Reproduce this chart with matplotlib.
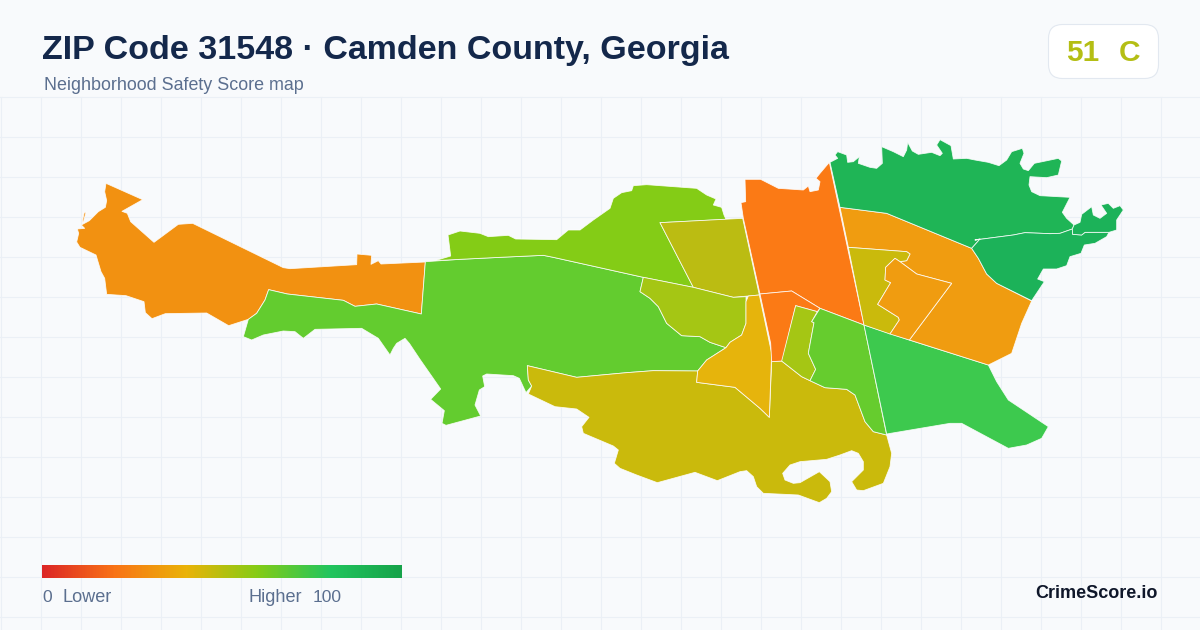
import matplotlib
matplotlib.use('Agg')
import matplotlib.pyplot as plt
import numpy as np
from matplotlib.colors import LinearSegmentedColormap
from matplotlib.patches import FancyBboxPatch, Polygon

plt.rcParams['font.family'] = ['Liberation Sans', 'DejaVu Sans']

def crop(ox, oy, pts):
    return [(x / 3 + ox, y / 3 + oy) for x, y in pts]

def west(pts):
    return crop(0, 130, pts)

def mid(pts):
    return crop(420, 170, pts)

def east(pts):
    return crop(730, 130, pts)

def coast_n(pts):
    return crop(825, 135, pts)

def coast_e(pts):
    return crop(975, 135, pts)

def lagoon(pts):
    return crop(740, 430, pts)

west_orange = west([(318,160),(428,209),(366,244),(382,250),(392,275),(462,337),(535,283),(578,280),(850,413),(870,416),(1070,404),(1071,372),(1115,376),(1113,403),(1135,392),(1143,402),(1276,396),(1264,552),(1130,522),(1065,529),(1030,511),(862,492),(806,479),(795,510),(770,550),(745,568),(686,587),(620,549),(496,551),(456,566),(436,548),(432,515),(378,497),(320,493),(314,445),(303,425),(288,375),(240,352),(230,336),(236,310),(232,297),(254,295),(244,285),(268,272),(295,245),(316,232),(320,212),(314,185)])
west_sliver = west([(253,247),(258,247),(250,276),(247,274)])
west_green = west([(806,479),(862,492),(1030,511),(1065,529),(1130,522),(1264,552),(1276,396)]) \
    + mid([(18,275),(120,268),(240,262),(370,256),(400,262),(670,322),(660,365),(690,385),(715,410),(740,460),(785,497),(840,500),(870,517),(918,533),(860,570),(833,603),(700,602),(620,608),(470,622),(322,587),(325,630),(335,648),(318,668),(298,625),(280,617),(200,612),(188,618),(194,650),(178,660),(165,705),(182,738),(78,766),(66,760),(73,722),(32,688),(62,657),(0,568)]) \
    + west([(1228,640),(1215,625),(1190,640),(1180,655),(1170,675),(1135,625),(1085,595),(945,598),(910,625),(885,605),(850,603),(790,615),(755,630),(730,620),(745,568),(770,550),(795,510)])
north_lime = mid([(45,272),(92,258),(84,195),(120,183),(180,190),(205,200),(265,196),(287,207),(410,209),(445,180),(480,180),(520,150),(570,115),(580,85),(605,68),(635,62),(640,47),(680,44),(830,55),(860,75),(888,87),(880,105),(905,112),(912,135),(918,148),(720,158),(820,352),(670,322),(400,262),(370,256),(240,262),(120,268)])
north_olive = mid([(720,158),(968,145),(1018,375),(985,378),(940,382),(820,352)])
centre_lime = mid([(670,322),(820,352),(940,382),(978,380),(978,460),(965,495),(930,517),(918,533),(870,517),(840,500),(785,497),(740,460),(715,410),(690,385),(660,365)])
centre_amber = mid([(985,378),(1018,375),(1055,550),(1048,742),(1020,715),(945,652),(830,637),(833,603),(860,570),(918,533),(930,517),(965,495),(978,460),(978,395)])
south_olive = mid([(322,587),(470,622),(620,608),(700,602),(833,603),(830,637),(945,652),(1020,715),(1048,742),(1055,575)]) \
    + east([(125,695),(155,693),(215,740),(240,752),(285,773),(350,778),(375,795),(405,875),(430,905),(470,915)]) \
    + lagoon([(455,70),(450,110),(430,160),(370,182),(350,180),(335,155),(370,120),(370,95),(355,70),(335,62),(300,75),(260,88),(180,95),(150,105),(128,130),(135,150),(160,160),(180,158),(238,125),(270,155),(275,185),(260,205),(238,218),(175,195),(70,190),(50,170),(40,140),(20,122),(0,125)]) \
    + mid([(892,932),(825,907),(712,938),(650,915),(600,895),(583,880),(595,840),(580,828),(490,790),(485,770),(507,742),(470,717),(405,710),(325,672),(335,648),(325,630)])
north_orange = east([(45,148),(92,148),(145,175),(220,180),(235,168),(240,185),(265,180),(270,155),(258,145),(270,130),(298,97),(402,585),(270,535),(185,483),(90,492),(40,265),(33,218),(47,215)])
south_orange = east([(90,492),(185,483),(270,535),(262,545),(197,527),(157,693),(125,695),(122,640)])
strip_lime = east([(197,527),(262,545),(245,575),(252,578),(235,670),(257,718),(240,752),(215,740),(155,693)])
centre_green = east([(270,535),(402,585),(470,915),(430,905),(405,875),(375,795),(350,778),(285,773),(240,752),(257,718),(235,670),(252,578),(245,575)])
east_green = east([(402,585),(538,630),(775,705),(800,755),(835,810),(955,890),(935,925),(890,945),(835,955),(695,880),(660,880),(470,912)])
east_orange = east([(330,232),(470,250),(725,355),(745,385),(770,432),(800,460),(905,513),(875,580),(845,670),(775,705),(538,630),(665,460),(560,432),(510,395),(530,392),(540,372),(530,365),(355,352)])
inner_olive = east([(355,352),(530,365),(540,372),(530,392),(510,395),(495,385),(467,412),(465,450),(482,458),(443,523),(505,562),(508,570),(480,612),(402,585)])
inner_orange = east([(495,385),(510,395),(560,432),(665,460),(538,630),(480,612),(508,570),(505,562),(443,523),(482,458),(465,450),(467,412)])
coast_green = coast_n([(15,82),(38,70),(30,60),(38,50),(65,60),(68,82),(85,80),(103,65),(100,85),(135,97),(155,100),(172,85),(170,35),(205,50),(235,65),(245,45),(248,22),(262,48),(280,58),(320,52),(345,62),(352,55),(335,30),(345,14),(378,32),(385,72),(425,70)]) \
    + coast_e([(0,75),(40,82),(72,92),(95,75),(110,50),(142,40),(147,55),(135,85),(145,102),(160,107),(178,85),(250,70),(260,78),(250,120),(215,128),(165,125),(162,150),(170,170),(195,182),(285,187),(262,232),(275,250),(297,270),(292,282),(255,295),(225,296),(150,293),(115,300),(0,315)]) \
    + east([(750,327),(725,355),(470,250),(330,232)])
river_green = east([(725,355),(750,327)]) \
    + coast_e([(0,315),(115,300),(150,293),(225,296),(255,295),(292,282),(293,298),(320,300),(330,292),(402,292),(395,305),(360,325),(328,330),(318,355),(285,365),(275,392),(245,402),(205,402),(188,432),(208,440),(170,497)]) \
    + east([(800,460),(770,432),(745,385)])
tip_green = coast_e([(297,270),(315,262),(320,238),(350,215),(355,240),(375,250),(395,235),(378,210),(400,205),(415,220),(435,212),(445,225),(425,255),(425,285),(402,292),(330,292),(320,300),(293,298),(292,282)])

regions = [west_orange, west_sliver, west_green, north_lime, north_olive, centre_lime, south_olive, centre_amber,
           north_orange, south_orange, strip_lime, centre_green, east_green, east_orange, inner_olive,
           inner_orange, coast_green, river_green, tip_green]
region_colors = ['#F29111', '#F29111', '#63CC2F', '#84CC16', '#BBBC12', '#A5C614', '#CABA0C', '#E6B40C',
                 '#FB7A15', '#FB7A15', '#A5C614', '#66CC2E', '#3DC94E', '#F09C10', '#CABA0C',
                 '#F09C10', '#1FB556', '#1CB259', '#1CB259']

legend_stops = [0, 0.2, 0.4, 0.6, 0.8, 1]
legend_colors = ['#DC2626', '#F97316', '#EAB308', '#84CC16', '#22C55E', '#16A34A']

fig = plt.figure(figsize=(12, 6.3), dpi=100, facecolor='#F8FAFC')
ax = fig.add_axes([0, 0, 1, 1])
ax.set_xlim(0, 1200)
ax.set_ylim(630, 0)
ax.axis('off')

# background grid starts under the header
for x in np.arange(0, 1200, 40):
    ax.plot([x + 0.5, x + 0.5], [97, 630], color='#EBF0F6', lw=0.8, zorder=1)
for y in np.arange(97, 630, 40):
    ax.plot([0, 1200], [y, y], color='#EBF0F6', lw=0.8, zorder=1)

for pts, c in zip(regions, region_colors):
    ax.add_patch(Polygon(pts, closed=True, facecolor=c, edgecolor=(1, 1, 1, 0.85), lw=0.6, zorder=3, joinstyle='round'))

ax.text(42, 50, 'ZIP Code 31548 · Camden County, Georgia', fontsize=24.45, fontweight='bold',
        color='#14284B', va='center', ha='left')
ax.text(44, 86, 'Neighborhood Safety Score map', fontsize=12.9, color='#5B6F8F', va='center', ha='left')

ax.add_patch(FancyBboxPatch((1048.5, 24.5), 110, 54, boxstyle='round,pad=0,rounding_size=14',
                            fc='white', ec='#E2E8F0', lw=0.8, zorder=4))
ax.text(1066, 53, '51', fontsize=21.5, fontweight='bold', color='#B4BE14', va='center', ha='left', zorder=5)
ax.text(1118.5, 53, 'C', fontsize=21.5, fontweight='bold', color='#B4BE14', va='center', ha='left', zorder=5)

cmap = LinearSegmentedColormap.from_list('score', list(zip(legend_stops, legend_colors)))
ax.imshow(np.linspace(0, 1, 360)[None, :], cmap=cmap, extent=[42, 402, 578, 565], aspect='auto', zorder=4)
ax.set_xlim(0, 1200)
ax.set_ylim(630, 0)

ax.text(42, 598, '0', fontsize=12.6, color='#5B6F8F', va='center', ha='left', zorder=5)
ax.text(62, 598, 'Lower', fontsize=13.1, color='#5B6F8F', va='center', ha='left', zorder=5)
ax.text(249, 598, 'Higher', fontsize=13.1, color='#5B6F8F', va='center', ha='left', zorder=5)
ax.text(313, 598, '100', fontsize=12.6, color='#5B6F8F', va='center', ha='left', zorder=5)
ax.text(1158, 594, 'CrimeScore.io', fontsize=13, fontweight='bold', color='#0F172A', va='center', ha='right', zorder=5)

fig.savefig('out.png', dpi=100, facecolor=fig.get_facecolor())
